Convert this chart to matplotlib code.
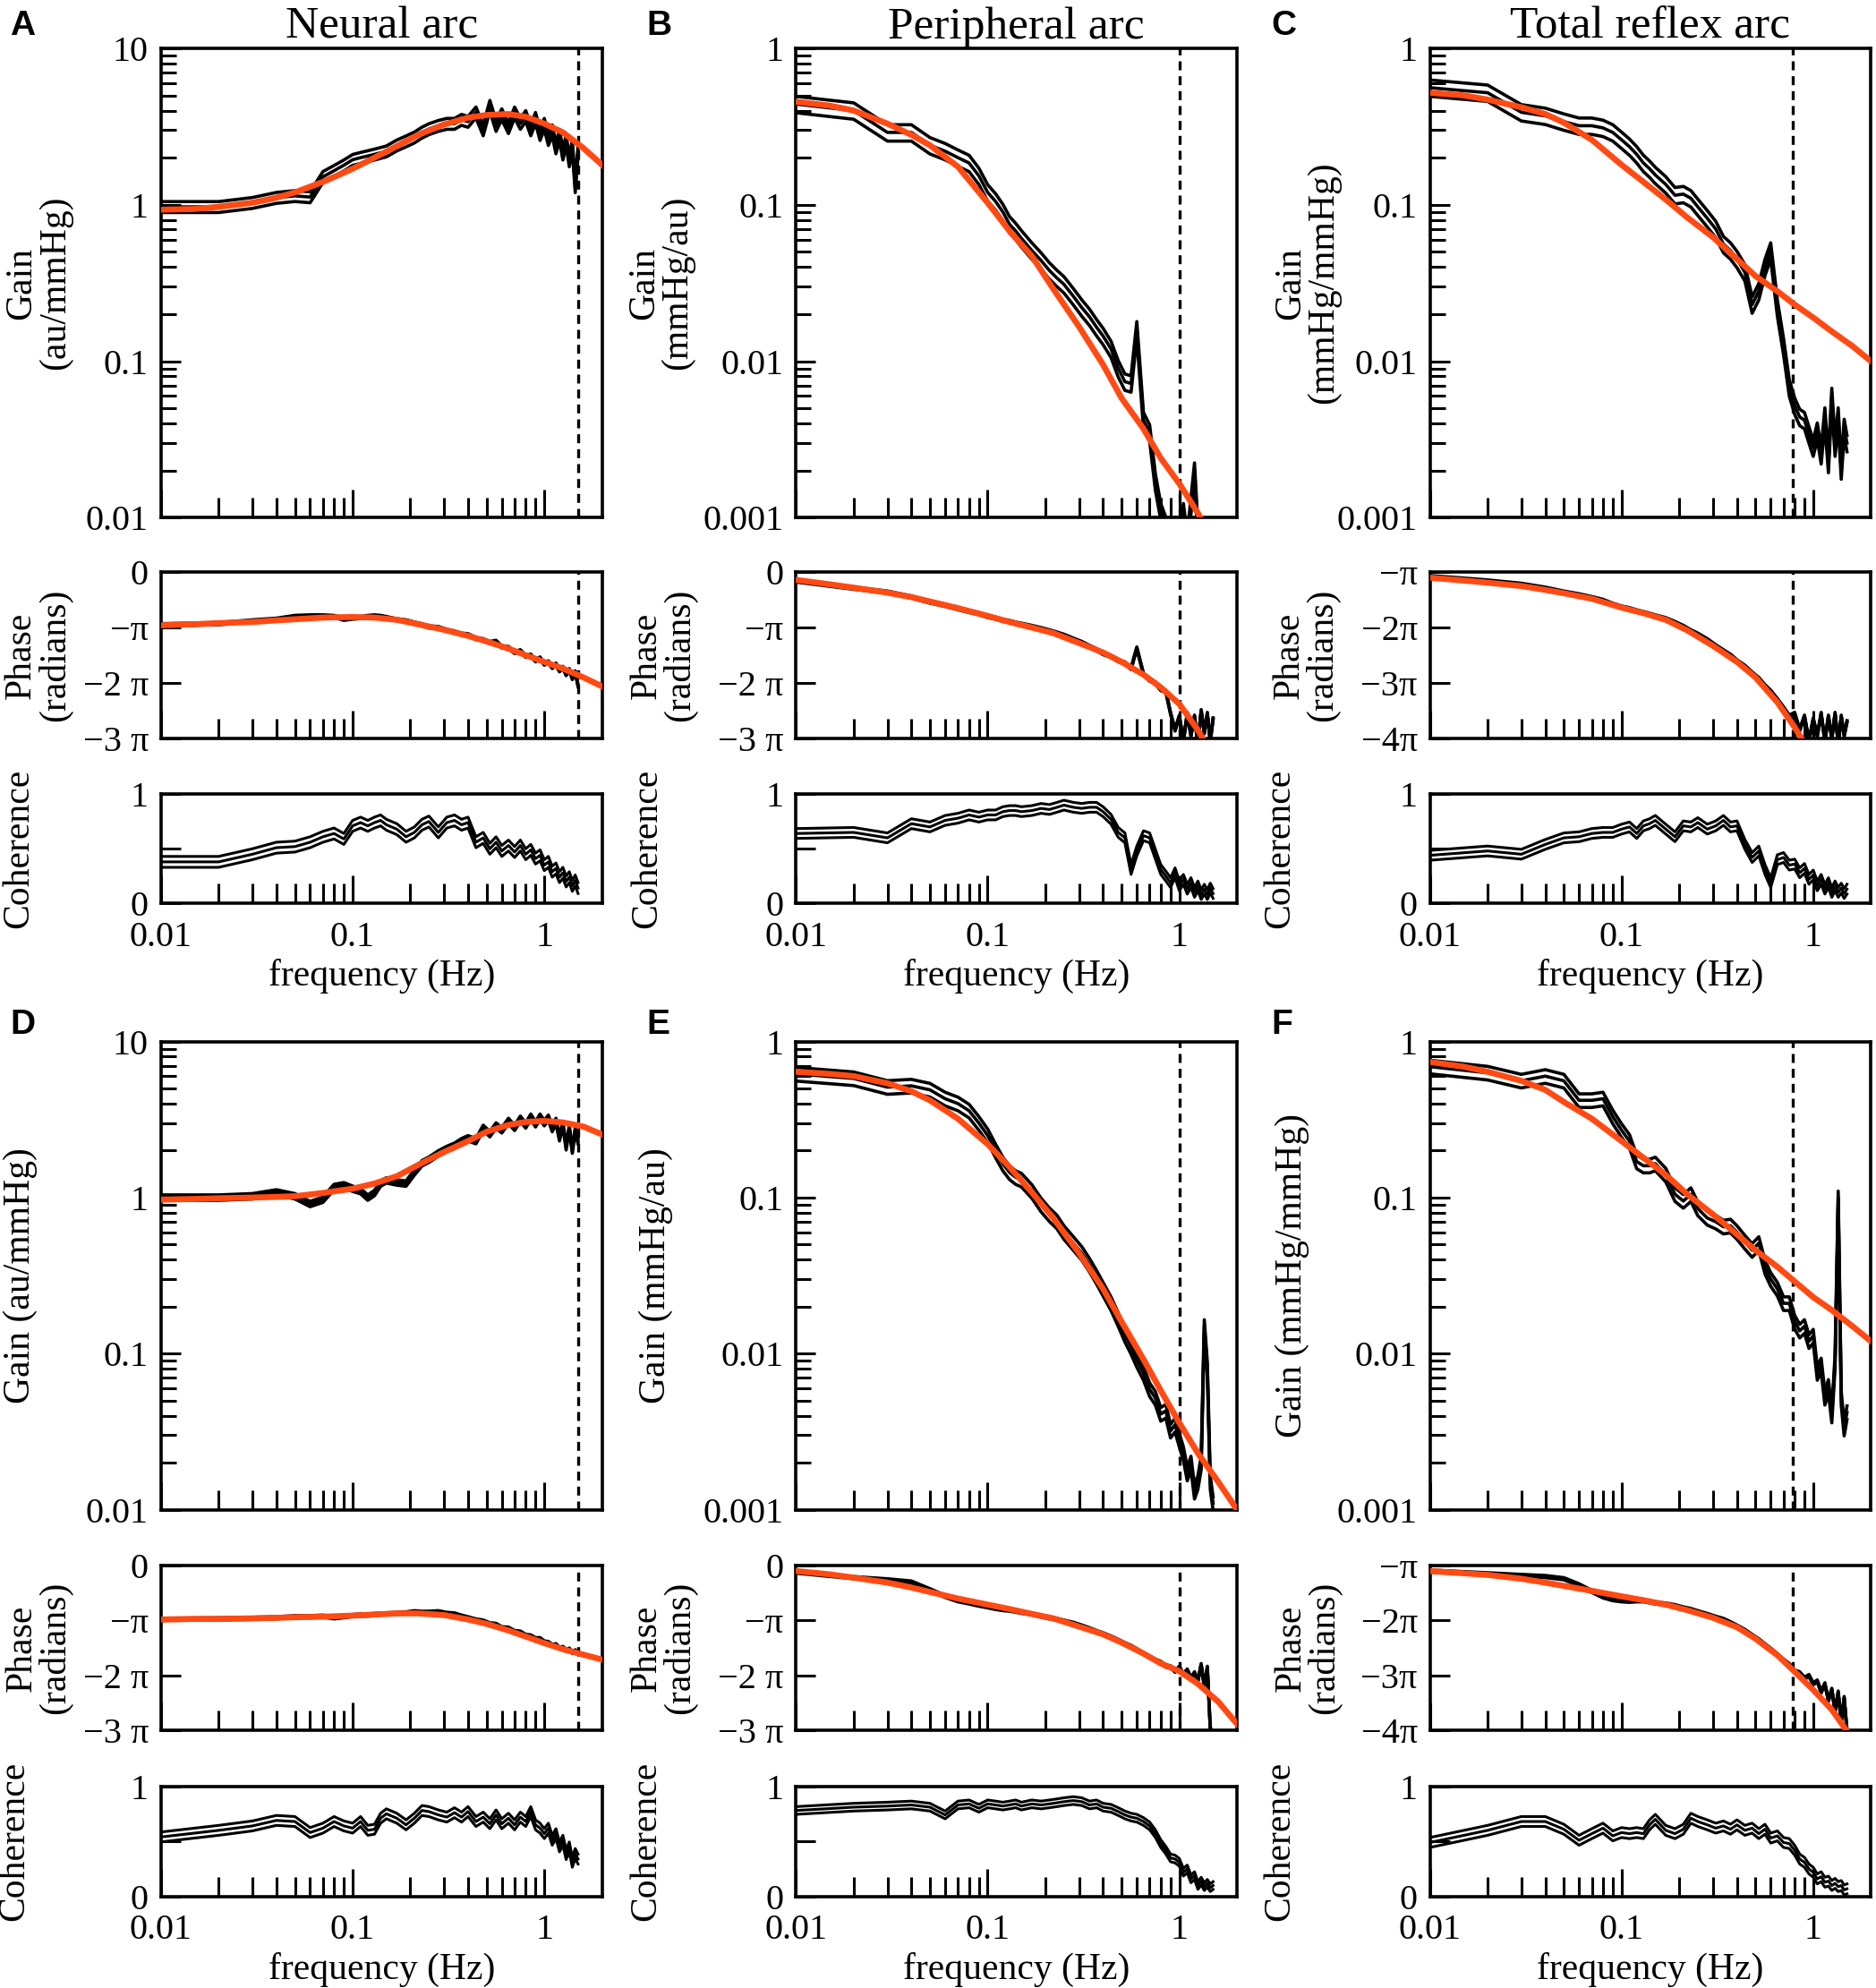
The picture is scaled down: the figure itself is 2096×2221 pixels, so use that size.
import numpy as np
import matplotlib
matplotlib.use("Agg")
import matplotlib.pyplot as plt
from matplotlib.ticker import LogLocator, NullFormatter

plt.rcParams['font.family'] = ['Liberation Serif', 'DejaVu Serif']

# frequency grid of the measured curves (Hz)
F = [0.01, 0.02, 0.03, 0.04, 0.05, 0.06, 0.07, 0.08, 0.09, 0.10,
     0.11, 0.12, 0.13, 0.14, 0.15, 0.17, 0.19, 0.21, 0.23, 0.25,
     0.28, 0.31, 0.34, 0.37, 0.40, 0.44, 0.48, 0.52, 0.56, 0.60,
     0.65, 0.70, 0.75, 0.80, 0.85, 0.90, 0.95, 1.00, 1.05, 1.10,
     1.15, 1.20, 1.25, 1.30, 1.35, 1.40, 1.45, 1.50]

# frequency grid of the model fits (Hz)
FIT_F = [0.01, 0.015, 0.02, 0.03, 0.04, 0.05, 0.07, 0.1, 0.13, 0.17,
         0.22, 0.3, 0.4, 0.5, 0.65, 0.8, 1.0, 1.25, 1.6, 2.0]

# ---- gain (mean curves) ----
gain_A = [0.97, 0.97, 1.03, 1.11, 1.14, 1.12, 1.51, 1.65, 1.79, 1.94,
          2.00, 2.05, 2.10, 2.15, 2.20, 2.40, 2.55, 2.70, 2.90, 3.05,
          3.20, 3.30, 3.30, 3.50, 3.40, 3.90, 3.00, 4.30, 3.20, 3.80,
          3.10, 3.90, 3.30, 3.70, 3.00, 3.60, 2.80, 3.30, 2.60, 3.00,
          2.30, 2.80, 2.10, 2.60, 1.90, 2.40, 1.30, 2.20]
gain_B = [0.44, 0.40, 0.29, 0.29, 0.24, 0.22, 0.20, 0.185, 0.153, 0.12,
          0.105, 0.09, 0.075, 0.068, 0.061, 0.051, 0.044, 0.038, 0.034, 0.031,
          0.026, 0.022, 0.0192, 0.0165, 0.0145, 0.012, 0.0090, 0.0074, 0.0072, 0.016,
          0.0042, 0.0035, 0.0017, 0.0011, 0.0009, 0.0007, 0.0009, 0.0006, 0.0011, 0.0007,
          0.0012, 0.0020, 0.0008, 0.0006, 0.0007, 0.0005, 0.0006, 0.0005]
gain_C = [0.56, 0.52, 0.39, 0.37, 0.34, 0.32, 0.32, 0.31, 0.29, 0.26,
          0.235, 0.21, 0.185, 0.17, 0.155, 0.135, 0.115, 0.117, 0.11, 0.097,
          0.082, 0.070, 0.056, 0.051, 0.045, 0.037, 0.023, 0.028, 0.040, 0.051,
          0.022, 0.0125, 0.0068, 0.0052, 0.0044, 0.0042, 0.0034, 0.0028, 0.0036, 0.0025,
          0.0045, 0.0022, 0.0060, 0.0028, 0.0045, 0.0020, 0.0038, 0.0030]
gain_D = [1.00, 1.00, 1.02, 1.08, 1.02, 0.91, 0.97, 1.17, 1.20, 1.14,
          1.10, 1.00, 1.07, 1.23, 1.29, 1.25, 1.23, 1.45, 1.66, 1.75,
          1.92, 2.05, 2.15, 2.30, 2.40, 2.30, 2.80, 2.55, 2.90, 2.70,
          3.10, 2.80, 3.20, 2.90, 3.30, 2.95, 3.30, 3.00, 3.25, 2.75,
          3.10, 2.40, 2.95, 2.10, 2.80, 2.00, 2.70, 2.30]
gain_E = [0.62, 0.58, 0.51, 0.52, 0.49, 0.43, 0.40, 0.36, 0.30, 0.25,
          0.20, 0.165, 0.145, 0.135, 0.13, 0.11, 0.09, 0.078, 0.070, 0.060,
          0.051, 0.044, 0.037, 0.031, 0.026, 0.021, 0.0166, 0.0132, 0.011, 0.0091,
          0.0075, 0.0059, 0.0052, 0.0041, 0.0043, 0.0032, 0.0035, 0.0028, 0.0023, 0.0017,
          0.0020, 0.0013, 0.0015, 0.0020, 0.015, 0.0080, 0.0015, 0.0011]
gain_F = [0.69, 0.63, 0.56, 0.60, 0.56, 0.42, 0.42, 0.43, 0.33, 0.27,
          0.23, 0.17, 0.16, 0.16, 0.165, 0.14, 0.105, 0.095, 0.105, 0.085,
          0.074, 0.070, 0.065, 0.066, 0.060, 0.052, 0.046, 0.051, 0.036, 0.030,
          0.026, 0.021, 0.021, 0.016, 0.014, 0.015, 0.012, 0.013, 0.0075, 0.0085,
          0.0052, 0.0062, 0.0040, 0.0090, 0.100, 0.0052, 0.0033, 0.0042]

# relative spread between the three gain traces
gain_spread = [0.08, 0.12, 0.12, 0.04, 0.10, 0.10]

# ---- gain fits ----
gain_fit_A = [0.93, 0.94, 0.97, 1.03, 1.11, 1.20, 1.40, 1.70, 2.00, 2.37,
              2.80, 3.26, 3.60, 3.75, 3.80, 3.65, 3.30, 2.90, 2.30, 1.80]
gain_fit_B = [0.455, 0.43, 0.40, 0.33, 0.28, 0.24, 0.175, 0.103, 0.068, 0.047,
              0.029, 0.0166, 0.0095, 0.0058, 0.0037, 0.0024, 0.00165, 0.00107, 0.0006, 0.0004]
gain_fit_C = [0.52, 0.50, 0.47, 0.42, 0.38, 0.335, 0.26, 0.18, 0.14, 0.108,
              0.083, 0.062, 0.045, 0.035, 0.028, 0.023, 0.019, 0.0155, 0.0125, 0.010]
gain_fit_D = [0.97, 0.98, 0.99, 1.00, 1.01, 1.02, 1.07, 1.14, 1.23, 1.37,
              1.62, 1.96, 2.30, 2.64, 2.92, 3.05, 3.10, 3.03, 2.85, 2.54]
gain_fit_E = [0.64, 0.62, 0.60, 0.54, 0.48, 0.42, 0.32, 0.22, 0.157, 0.108,
              0.074, 0.044, 0.026, 0.016, 0.0092, 0.0058, 0.0036, 0.0023, 0.0015, 0.001]
gain_fit_F = [0.74, 0.69, 0.64, 0.56, 0.49, 0.41, 0.32, 0.23, 0.18, 0.14,
              0.105, 0.078, 0.058, 0.046, 0.036, 0.029, 0.023, 0.019, 0.015, 0.012]

# ---- phase (in units of pi) ----
phase_A = [-0.95, -0.93, -0.88, -0.85, -0.80, -0.79, -0.79, -0.80, -0.85, -0.83,
           -0.82, -0.80, -0.79, -0.80, -0.82, -0.86, -0.88, -0.92, -0.95, -0.99,
           -1.00, -1.05, -1.08, -1.12, -1.13, -1.20, -1.22, -1.27, -1.25, -1.35,
           -1.36, -1.45, -1.42, -1.52, -1.50, -1.60, -1.55, -1.66, -1.62, -1.72,
           -1.66, -1.78, -1.72, -1.85, -1.76, -1.92, -1.80, -2.05]
phase_B = [-0.16, -0.29, -0.36, -0.45, -0.54, -0.60, -0.66, -0.71, -0.75, -0.80,
           -0.83, -0.87, -0.89, -0.92, -0.94, -0.98, -1.02, -1.06, -1.10, -1.14,
           -1.21, -1.27, -1.34, -1.40, -1.47, -1.52, -1.60, -1.64, -1.74, -1.37,
           -1.84, -1.95, -2.00, -2.12, -2.15, -2.55, -2.85, -2.60, -3.05, -2.55,
           -2.95, -2.60, -3.10, -2.50, -2.90, -2.55, -3.05, -2.65]
phase_C = [-1.08, -1.16, -1.22, -1.29, -1.36, -1.41, -1.46, -1.51, -1.58, -1.63,
           -1.66, -1.70, -1.73, -1.76, -1.79, -1.84, -1.91, -1.98, -2.06, -2.12,
           -2.22, -2.33, -2.42, -2.50, -2.60, -2.70, -2.82, -2.92, -3.05, -3.15,
           -3.30, -3.45, -3.60, -3.55, -3.85, -3.60, -4.05, -3.65, -3.95, -3.55,
           -4.05, -3.60, -4.00, -3.55, -4.10, -3.60, -3.95, -3.70]
phase_D = [-0.98, -0.97, -0.96, -0.95, -0.93, -0.93, -0.92, -0.95, -0.93, -0.91,
           -0.90, -0.90, -0.89, -0.88, -0.88, -0.87, -0.86, -0.84, -0.85, -0.85,
           -0.84, -0.87, -0.88, -0.92, -0.95, -0.99, -1.01, -1.06, -1.07, -1.13,
           -1.14, -1.20, -1.21, -1.27, -1.28, -1.33, -1.33, -1.39, -1.40, -1.45,
           -1.44, -1.50, -1.49, -1.54, -1.52, -1.58, -1.55, -1.60]
phase_E = [-0.12, -0.22, -0.26, -0.30, -0.44, -0.56, -0.64, -0.68, -0.72, -0.75,
           -0.78, -0.80, -0.81, -0.83, -0.85, -0.88, -0.92, -0.95, -0.98, -1.01,
           -1.05, -1.10, -1.15, -1.20, -1.24, -1.30, -1.36, -1.42, -1.47, -1.53,
           -1.60, -1.66, -1.72, -1.76, -1.83, -1.84, -1.92, -1.85, -1.98, -1.90,
           -2.05, -1.95, -2.10, -1.80, -2.20, -1.85, -2.95, -3.10]
phase_F = [-1.10, -1.15, -1.18, -1.20, -1.24, -1.35, -1.47, -1.57, -1.62, -1.64,
           -1.65, -1.64, -1.64, -1.66, -1.68, -1.70, -1.73, -1.77, -1.80, -1.84,
           -1.89, -1.94, -1.98, -2.04, -2.10, -2.18, -2.27, -2.35, -2.44, -2.52,
           -2.62, -2.72, -2.80, -2.92, -2.95, -3.05, -3.00, -3.15, -3.10, -3.30,
           -3.15, -3.45, -3.25, -3.65, -3.30, -3.85, -3.40, -4.00]
phase_spread = 0.02

# ---- phase fits (units of pi) ----
phase_fit_A = [-0.96, -0.94, -0.92, -0.90, -0.87, -0.85, -0.82, -0.81, -0.82, -0.86,
               -0.94, -1.04, -1.15, -1.25, -1.38, -1.50, -1.62, -1.74, -1.90, -2.06]
phase_fit_B = [-0.14, -0.22, -0.28, -0.37, -0.45, -0.53, -0.65, -0.79, -0.90, -1.00,
               -1.10, -1.28, -1.45, -1.62, -1.85, -2.08, -2.38, -2.85, -3.50, -4.20]
phase_fit_C = [-1.10, -1.15, -1.19, -1.25, -1.32, -1.38, -1.48, -1.64, -1.74, -1.86,
               -2.05, -2.33, -2.62, -2.90, -3.35, -3.80, -4.35, -5.00, -5.80, -6.60]
phase_fit_D = [-0.98, -0.97, -0.97, -0.96, -0.95, -0.94, -0.93, -0.91, -0.89, -0.87,
               -0.87, -0.90, -0.98, -1.06, -1.18, -1.29, -1.41, -1.52, -1.62, -1.71]
phase_fit_E = [-0.10, -0.16, -0.22, -0.31, -0.40, -0.48, -0.60, -0.71, -0.79, -0.88,
               -0.96, -1.11, -1.25, -1.40, -1.60, -1.78, -1.92, -2.15, -2.48, -2.88]
phase_fit_F = [-1.10, -1.14, -1.17, -1.24, -1.31, -1.37, -1.46, -1.56, -1.63, -1.71,
               -1.81, -1.95, -2.12, -2.33, -2.63, -2.93, -3.26, -3.62, -4.15, -4.70]

# ---- coherence ----
coh_A = [0.38, 0.38, 0.45, 0.51, 0.52, 0.56, 0.61, 0.64, 0.59, 0.71,
         0.74, 0.71, 0.74, 0.76, 0.72, 0.68, 0.61, 0.65, 0.72, 0.75,
         0.65, 0.74, 0.76, 0.72, 0.74, 0.56, 0.60, 0.50, 0.56, 0.48,
         0.53, 0.47, 0.53, 0.45, 0.49, 0.41, 0.44, 0.35, 0.38, 0.29,
         0.32, 0.24, 0.28, 0.20, 0.24, 0.16, 0.21, 0.14]
coh_B = [0.64, 0.65, 0.60, 0.73, 0.70, 0.76, 0.78, 0.81, 0.79, 0.81,
         0.81, 0.84, 0.85, 0.85, 0.84, 0.85, 0.87, 0.86, 0.88, 0.90,
         0.88, 0.87, 0.88, 0.88, 0.84, 0.77, 0.65, 0.60, 0.31, 0.48,
         0.62, 0.60, 0.45, 0.31, 0.25, 0.19, 0.28, 0.16, 0.22, 0.13,
         0.19, 0.10, 0.16, 0.08, 0.13, 0.08, 0.14, 0.09]
coh_C = [0.44, 0.48, 0.45, 0.54, 0.60, 0.61, 0.64, 0.65, 0.65, 0.68,
         0.70, 0.64, 0.71, 0.73, 0.76, 0.68, 0.61, 0.71, 0.70, 0.74,
         0.68, 0.71, 0.76, 0.70, 0.71, 0.54, 0.42, 0.48, 0.31, 0.19,
         0.40, 0.42, 0.35, 0.36, 0.28, 0.32, 0.22, 0.26, 0.16, 0.22,
         0.13, 0.19, 0.10, 0.16, 0.10, 0.14, 0.09, 0.13]
coh_D = [0.54, 0.60, 0.64, 0.69, 0.68, 0.58, 0.62, 0.68, 0.64, 0.62,
         0.68, 0.60, 0.61, 0.71, 0.75, 0.71, 0.65, 0.71, 0.78, 0.77,
         0.74, 0.72, 0.76, 0.72, 0.77, 0.68, 0.72, 0.66, 0.74, 0.66,
         0.71, 0.65, 0.72, 0.68, 0.77, 0.65, 0.62, 0.57, 0.62, 0.51,
         0.57, 0.45, 0.51, 0.38, 0.45, 0.31, 0.39, 0.34]
coh_E = [0.78, 0.81, 0.82, 0.83, 0.81, 0.74, 0.83, 0.84, 0.80, 0.84,
         0.83, 0.82, 0.83, 0.84, 0.82, 0.84, 0.83, 0.84, 0.85, 0.86,
         0.87, 0.86, 0.83, 0.84, 0.81, 0.80, 0.77, 0.74, 0.72, 0.71,
         0.68, 0.64, 0.57, 0.48, 0.42, 0.35, 0.34, 0.31, 0.22, 0.25,
         0.16, 0.19, 0.10, 0.14, 0.09, 0.12, 0.08, 0.10]
coh_F = [0.49, 0.60, 0.68, 0.68, 0.61, 0.51, 0.57, 0.62, 0.55, 0.58,
         0.57, 0.58, 0.57, 0.65, 0.70, 0.60, 0.57, 0.61, 0.71, 0.68,
         0.65, 0.62, 0.64, 0.61, 0.65, 0.60, 0.62, 0.57, 0.61, 0.53,
         0.55, 0.49, 0.48, 0.42, 0.34, 0.31, 0.25, 0.22, 0.16, 0.18,
         0.13, 0.14, 0.10, 0.12, 0.09, 0.10, 0.06, 0.07]
coh_spread = [0.05, 0.045, 0.045, 0.045, 0.035, 0.045]

# vertical dashed cutoff frequency per panel (Hz)
cutoff = [1.5, 1.0, 0.78, 1.5, 1.0, 0.78]

letters = ['A', 'B', 'C', 'D', 'E', 'F']
titles = ['Neural arc', 'Peripheral arc', 'Total reflex arc']
gain_labels = [
    'Gain\n(au/mmHg)', 'Gain\n(mmHg/au)', 'Gain\n(mmHg/mmHg)',
    'Gain (au/mmHg)', 'Gain (mmHg/au)', 'Gain (mmHg/mmHg)',
]

gains = [gain_A, gain_B, gain_C, gain_D, gain_E, gain_F]
gain_fits = [gain_fit_A, gain_fit_B, gain_fit_C, gain_fit_D, gain_fit_E, gain_fit_F]
phases = [phase_A, phase_B, phase_C, phase_D, phase_E, phase_F]
phase_fits = [phase_fit_A, phase_fit_B, phase_fit_C, phase_fit_D, phase_fit_E, phase_fit_F]
cohs = [coh_A, coh_B, coh_C, coh_D, coh_E, coh_F]

RED = '#FF4A14'
MINUS = '\u2212'
PI = '\u03c0'

COL_X = [0.0858, 0.4243, 0.7622]
AX_W = 0.2351
ROWS = [
    {'gain': (0.7396, 0.2361), 'phase': (0.6286, 0.0836), 'coh': (0.5456, 0.0549)},
    {'gain': (0.2406, 0.2355), 'phase': (0.1295, 0.0830), 'coh': (0.0460, 0.0555)},
]
# x position (axes fraction) of the right edge of each y label
GAIN_LX = [-0.201, -0.23, -0.201, -0.279, -0.279, -0.274]
PHASE_LX = [-0.201, -0.224, -0.204, -0.2, -0.224, -0.2]
COH_LX = [-0.284, -0.299, -0.3, -0.293, -0.3, -0.3]

TICK_FS = 14.5
LABEL_FS = 15

fig = plt.figure(figsize=(10.48, 11.105), dpi=200)

x_minor = [0.02, 0.03, 0.04, 0.05, 0.06, 0.07, 0.08, 0.09,
           0.2, 0.3, 0.4, 0.5, 0.6, 0.7, 0.8, 0.9]


def style_axes(ax, show_xlabels=False):
    ax.set_xscale('log')
    ax.set_xticks([0.01, 0.1, 1])
    ax.set_xticks(x_minor, minor=True)
    ax.xaxis.set_minor_formatter(NullFormatter())
    if show_xlabels:
        ax.set_xticklabels(['0.01', '0.1', '1'])
    else:
        ax.set_xticklabels([])
    ax.set_xlim(0.01, 2.0)
    ax.tick_params(which='both', direction='in', top=False, right=False,
                   width=1.1, labelsize=TICK_FS)
    ax.tick_params(axis='x', which='major', length=11, pad=7)
    ax.tick_params(axis='x', which='minor', length=8)
    ax.tick_params(axis='y', which='major', length=8, pad=5)
    ax.tick_params(axis='y', which='minor', length=6)
    for s in ax.spines.values():
        s.set_linewidth(1.3)


for i in range(6):
    row, col = divmod(i, 3)
    x0 = COL_X[col]
    r = ROWS[row]
    big = col == 0

    # gain
    ax = fig.add_axes([x0, r['gain'][0], AX_W, r['gain'][1]])
    g = np.array(gains[i])
    for k in (-1, 0, 1):
        ax.plot(F, g * (1 + k * gain_spread[i]), color='black', lw=1.3)
    ax.plot(FIT_F, gain_fits[i], color=RED, lw=2.4, zorder=5)
    ax.axvline(cutoff[i], color='black', lw=1.2, ls=(0, (3, 2)))
    style_axes(ax)
    ax.set_yscale('log')
    if big:
        ax.set_yticks([0.01, 0.1, 1, 10], ['0.01', '0.1', '1', '10'])
        ax.set_ylim(0.01, 10)
    else:
        ax.set_yticks([0.001, 0.01, 0.1, 1], ['0.001', '0.01', '0.1', '1'])
        ax.set_ylim(0.001, 1)
    ax.yaxis.set_minor_locator(LogLocator(base=10, subs=np.arange(2, 10)))
    ax.yaxis.set_minor_formatter(NullFormatter())
    ax.set_ylabel(gain_labels[i], fontsize=LABEL_FS, linespacing=0.95)
    ax.yaxis.set_label_coords(GAIN_LX[i], 0.5)
    if row == 0:
        ax.set_title(titles[col], fontsize=18.5, pad=4)

    # phase
    ax = fig.add_axes([x0, r['phase'][0], AX_W, r['phase'][1]])
    p = np.array(phases[i])
    for k in (-1, 0, 1):
        ax.plot(F, p + k * phase_spread, color='black', lw=1.3)
    ax.plot(FIT_F, phase_fits[i], color=RED, lw=2.4, zorder=5)
    ax.axvline(cutoff[i], color='black', lw=1.2, ls=(0, (3, 2)))
    style_axes(ax)
    if col < 2:
        ax.set_yticks([-3, -2, -1, 0],
                      [MINUS + '3 ' + PI, MINUS + '2 ' + PI, MINUS + PI, '0'])
        ax.set_ylim(-3, 0)
    else:
        ax.set_yticks([-4, -3, -2, -1],
                      [MINUS + '4' + PI, MINUS + '3' + PI, MINUS + '2' + PI, MINUS + PI])
        ax.set_ylim(-4, -1)
    ax.set_ylabel('Phase\n(radians)', fontsize=LABEL_FS, linespacing=0.95)
    ax.yaxis.set_label_coords(PHASE_LX[i], 0.5)

    # coherence
    ax = fig.add_axes([x0, r['coh'][0], AX_W, r['coh'][1]])
    c = np.array(cohs[i])
    for k in (-1, 0, 1):
        ax.plot(F, c + k * coh_spread[i], color='black', lw=1.1)
    style_axes(ax, show_xlabels=True)
    ax.set_yticks([0, 0.5, 1], ['0', '', '1'])
    ax.set_ylim(0, 1)
    ax.set_ylabel('Coherence', fontsize=LABEL_FS)
    ax.yaxis.set_label_coords(COH_LX[i], 0.5)
    ax.set_xlabel('frequency (Hz)', fontsize=LABEL_FS, labelpad=2)

    # panel letter
    lx = [0.0054, 0.3446, 0.6777][col]
    ly = [0.9949, 0.4927][row]
    fig.text(lx, ly, letters[i], fontsize=14, fontweight='bold',
             family='Liberation Sans', va='top', ha='left')

fig.savefig('out.png', dpi=200)
